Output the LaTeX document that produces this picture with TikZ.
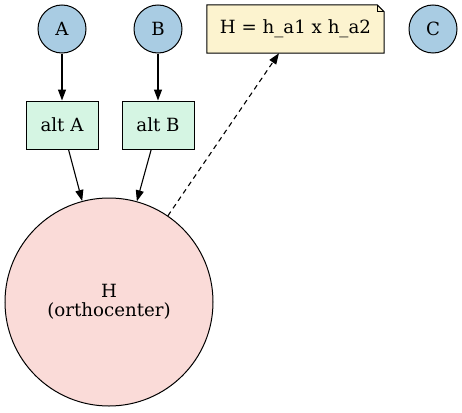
\documentclass[tikz,border=0pt]{standalone}
\usepackage{fontspec}
\setmainfont{DejaVu Serif}
\usetikzlibrary{arrows.meta}
\definecolor{ptblue}{HTML}{A9CCE3}
\definecolor{altgreen}{HTML}{D5F5E3}
\definecolor{notey}{HTML}{FCF3CF}
\definecolor{hpink}{HTML}{FADBD8}
\begin{document}
\begin{tikzpicture}[x=1pt,y=-1pt,
  every node/.style={font=\fontsize{18.2}{18.5}\selectfont},
  pt/.style={circle,draw=black,line width=1pt,fill=ptblue,minimum size=48pt,inner sep=0pt},
  altbox/.style={rectangle,draw=black,line width=1pt,fill=altgreen,minimum width=72pt,minimum height=48pt,inner sep=0pt},
  hcirc/.style={circle,draw=black,line width=1pt,fill=hpink,minimum size=208pt,inner sep=0pt,align=center},
  notebox/.style={rectangle,minimum width=177pt,minimum height=48pt,inner sep=0pt},
  edge/.style={line width=1.1pt,-{Triangle[length=11pt,width=8pt]}},
  dedge/.style={edge,dash pattern=on 5pt off 4pt}
]
\useasboundingbox (0,0) rectangle (462,412);
\node[pt] (A) at (62,29) {A};
\node[pt] (B) at (158,29) {B};
\node[pt] (C) at (433,29) {C};
\node[altbox] (altA) at (62,125) {alt A};
\node[altbox] (altB) at (158,125) {alt B};
\node[hcirc] (H) at (109,302) {H\\(orthocenter)};
\node[notebox] (note) at (295.5,29) {};
\fill[notey,draw=black,line width=1pt]
  (note.north west) -- ([xshift=-7pt]note.north east) -- ([yshift=-7pt]note.north east)
  -- (note.south east) -- (note.south west) -- cycle;
\draw[line width=1pt] ([xshift=-7pt]note.north east) |- ([yshift=-7pt]note.north east);
\node at (note) {H = h\_a1 x h\_a2};
\draw[edge] (A) -- (altA);
\draw[edge] (B) -- (altB);
\draw[edge] (altA) -- (H);
\draw[edge] (altB) -- (H);
\draw[dedge] (H) -- (note);
\end{tikzpicture}
\end{document}
